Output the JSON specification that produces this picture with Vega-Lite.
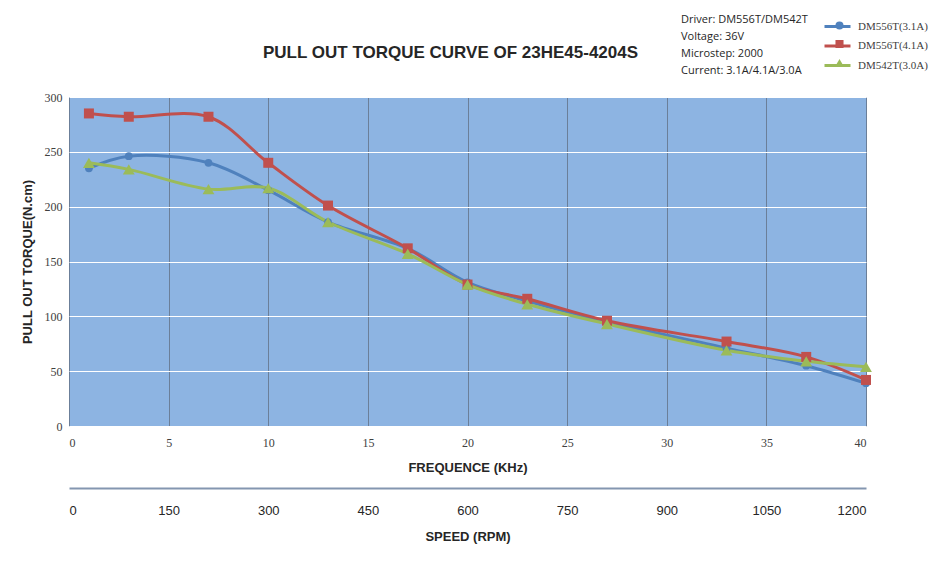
{
  "$schema": "https://vega.github.io/schema/vega-lite/v6.json",
  "autosize": {"type": "none"},
  "padding": {"left": 69, "top": 97, "right": 82, "bottom": 143},
  "width": 797,
  "height": 329,
  "background": "white",
  "title": {
    "text": "PULL OUT TORQUE CURVE OF 23HE45-4204S",
    "anchor": "start",
    "dx": 242,
    "offset": -42,
    "font": "Liberation Sans",
    "fontSize": 17,
    "fontWeight": "bold",
    "color": "#262626"
  },
  "config": {
    "view": {"fill": "#8DB4E2", "stroke": null},
    "font": "Liberation Sans"
  },
  "datasets": {
    "torque": [
      {"freq": 1, "torque": 235, "series": "DM556T(3.1A)"},
      {"freq": 3, "torque": 246, "series": "DM556T(3.1A)"},
      {"freq": 7, "torque": 240, "series": "DM556T(3.1A)"},
      {"freq": 10, "torque": 215, "series": "DM556T(3.1A)"},
      {"freq": 13, "torque": 186, "series": "DM556T(3.1A)"},
      {"freq": 17, "torque": 162, "series": "DM556T(3.1A)"},
      {"freq": 20, "torque": 131, "series": "DM556T(3.1A)"},
      {"freq": 23, "torque": 114, "series": "DM556T(3.1A)"},
      {"freq": 27, "torque": 95, "series": "DM556T(3.1A)"},
      {"freq": 33, "torque": 71, "series": "DM556T(3.1A)"},
      {"freq": 37, "torque": 55, "series": "DM556T(3.1A)"},
      {"freq": 40, "torque": 39, "series": "DM556T(3.1A)"},
      {"freq": 1, "torque": 285, "series": "DM556T(4.1A)"},
      {"freq": 3, "torque": 282, "series": "DM556T(4.1A)"},
      {"freq": 7, "torque": 282, "series": "DM556T(4.1A)"},
      {"freq": 10, "torque": 240, "series": "DM556T(4.1A)"},
      {"freq": 13, "torque": 201, "series": "DM556T(4.1A)"},
      {"freq": 17, "torque": 162, "series": "DM556T(4.1A)"},
      {"freq": 20, "torque": 129, "series": "DM556T(4.1A)"},
      {"freq": 23, "torque": 116, "series": "DM556T(4.1A)"},
      {"freq": 27, "torque": 96, "series": "DM556T(4.1A)"},
      {"freq": 33, "torque": 77, "series": "DM556T(4.1A)"},
      {"freq": 37, "torque": 63, "series": "DM556T(4.1A)"},
      {"freq": 40, "torque": 42, "series": "DM556T(4.1A)"},
      {"freq": 1, "torque": 240, "series": "DM542T(3.0A)"},
      {"freq": 3, "torque": 234, "series": "DM542T(3.0A)"},
      {"freq": 7, "torque": 216, "series": "DM542T(3.0A)"},
      {"freq": 10, "torque": 217, "series": "DM542T(3.0A)"},
      {"freq": 13, "torque": 186, "series": "DM542T(3.0A)"},
      {"freq": 17, "torque": 157, "series": "DM542T(3.0A)"},
      {"freq": 20, "torque": 129, "series": "DM542T(3.0A)"},
      {"freq": 23, "torque": 111, "series": "DM542T(3.0A)"},
      {"freq": 27, "torque": 93, "series": "DM542T(3.0A)"},
      {"freq": 33, "torque": 69, "series": "DM542T(3.0A)"},
      {"freq": 37, "torque": 59, "series": "DM542T(3.0A)"},
      {"freq": 40, "torque": 54, "series": "DM542T(3.0A)"}
    ],
    "speed": [{"rpm": 0}, {"rpm": 1200}]
  },
  "layer": [
    {
      "data": {"name": "torque"},
      "layer": [
        {
          "mark": {"type": "line", "interpolate": "catmull-rom", "strokeWidth": 3},
          "encoding": {
            "x": {"field": "freq", "type": "quantitative"},
            "y": {"field": "torque", "type": "quantitative"},
            "stroke": {"field": "series", "type": "nominal",
              "sort": ["DM556T(3.1A)", "DM556T(4.1A)", "DM542T(3.0A)"],
              "scale": {"range": ["#4F81BD", "#C0504D", "#9BBB59"]},
              "legend": {
                "orient": "none", "legendX": 612, "legendY": -77,
                "title": ["Driver: DM556T/DM542T", "Voltage: 36V", "Microstep: 2000", "Current: 3.1A/4.1A/3.0A"],
                "titleOrient": "left", "titleAnchor": "middle",
                "titleFont": "Open Sans", "titleFontSize": 11, "titleFontWeight": "normal", "titleColor": "#262626",
                "titleLineHeight": 17, "titlePadding": 23,
                "labelFont": "Liberation Serif", "labelFontSize": 11, "labelColor": "#404040", "labelOffset": 14,
                "rowPadding": 6.5, "symbolType": "M-2.6,0H2.6", "symbolSize": 100, "symbolStrokeWidth": 3
              }
            },
            "detail": {"field": "series"},
            "order": {"field": "freq", "type": "quantitative"}
          }
        },
        {
          "mark": {"type": "point", "filled": true, "opacity": 1},
          "encoding": {
            "x": {
              "field": "freq", "type": "quantitative",
              "scale": {"domain": [0, 40], "nice": false},
              "axis": {
                "title": "FREQUENCE (KHz)",
                "values": [0, 5, 10, 15, 20, 25, 30, 35, 40],
                "grid": true, "gridColor": "#6B7F99", "gridWidth": 1,
                "domain": false, "ticks": false,
                "labelFont": "Liberation Serif", "labelFontSize": 12, "labelColor": "#404040",
                "labelPadding": 11,
                "titleFont": "Liberation Sans", "titleFontSize": 13, "titleFontWeight": "bold", "titleColor": "#262626",
                "titlePadding": 13
              }
            },
            "y": {
              "field": "torque", "type": "quantitative",
              "scale": {"domain": [0, 300], "nice": false},
              "axis": {
                "title": "PULL OUT TORQUE(N.cm)",
                "values": [0, 50, 100, 150, 200, 250, 300],
                "grid": true, "gridColor": "#FFFFFF", "gridWidth": 1,
                "domain": false, "ticks": false,
                "labelFont": "Liberation Serif", "labelFontSize": 12, "labelColor": "#404040",
                "labelPadding": 7,
                "titleFont": "Liberation Sans", "titleFontSize": 13, "titleFontWeight": "bold", "titleColor": "#262626",
                "titlePadding": 10
              }
            },
            "color": {
              "field": "series", "type": "nominal",
              "scale": {"domain": ["DM556T(3.1A)", "DM556T(4.1A)", "DM542T(3.0A)"], "range": ["#4F81BD", "#C0504D", "#9BBB59"]},
              "legend": {
                "orient": "none", "legendX": 765, "legendY": -77,
                "title": null,
                "labelExpr": "''",
                "labelFont": "Liberation Serif", "labelFontSize": 11, "labelOffset": 6,
                "rowPadding": 6.5, "symbolSize": 65, "symbolStrokeWidth": 0
              }
            },
            "shape": {
              "field": "series", "type": "nominal",
              "scale": {"domain": ["DM556T(3.1A)", "DM556T(4.1A)", "DM542T(3.0A)"], "range": ["circle", "square", "triangle-up"]}
            },
            "size": {
              "field": "series", "type": "nominal", "legend": null,
              "sort": ["DM556T(3.1A)", "DM556T(4.1A)", "DM542T(3.0A)"],
              "scale": {"range": [60, 140, 110]}
            }
          }
        }
      ]
    },
    {
      "data": {"name": "speed"},
      "mark": {"type": "point", "opacity": 0},
      "encoding": {
        "x": {
          "field": "rpm", "type": "quantitative",
          "scale": {"domain": [0, 1200], "nice": false},
          "axis": {
            "orient": "bottom", "offset": 62,
            "title": "SPEED (RPM)",
            "format": "d",
            "values": [0, 150, 300, 450, 600, 750, 900, 1050, 1200],
            "grid": false, "ticks": false,
            "domain": true, "domainColor": "#8496B0", "domainWidth": 2,
            "labelFont": "Liberation Sans", "labelFontSize": 13, "labelColor": "#262626",
            "labelPadding": 16,
            "titleFont": "Liberation Sans", "titleFontSize": 13, "titleFontWeight": "bold", "titleColor": "#262626",
            "titlePadding": 13
          }
        },
        "y": {"value": 0}
      }
    }
  ],
  "resolve": {"scale": {"x": "independent"}, "axis": {"x": "independent"}}
}
